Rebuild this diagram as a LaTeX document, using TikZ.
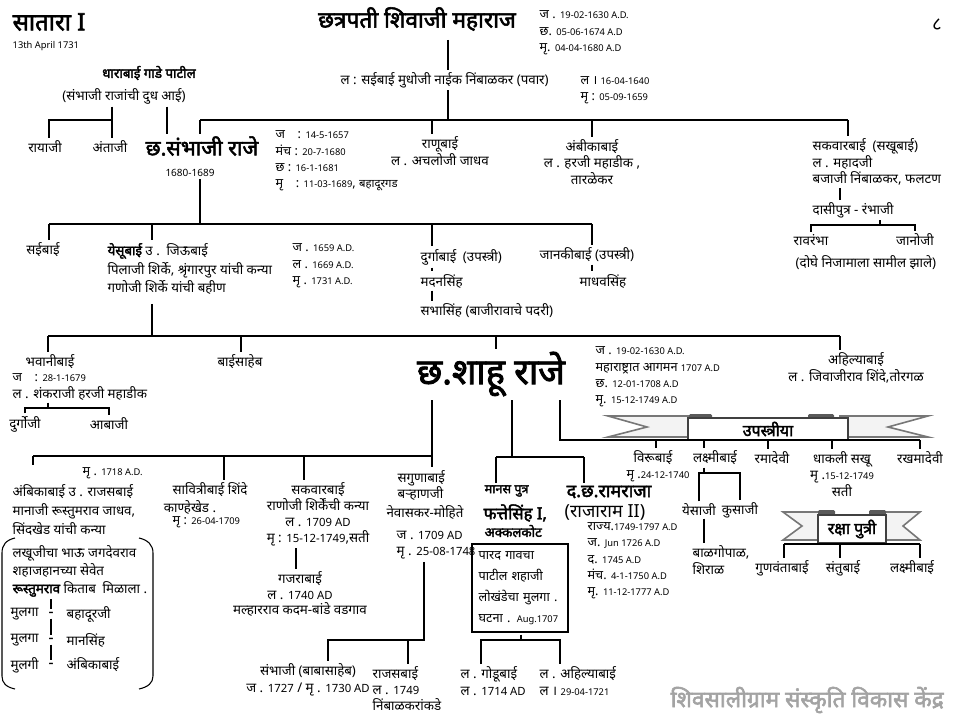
\documentclass[tikz,border=0pt]{standalone}
\usepackage{fontspec}
\setmainfont{Noto Sans}
\newfontfamily\dev[Script=Devanagari]{Noto Sans}
\newfontfamily\devb[Script=Devanagari, FakeBold=2.5]{Noto Sans}
\usetikzlibrary{positioning}
\definecolor{ribbonEdge}{HTML}{777777}
\definecolor{ribbonFill}{HTML}{F3F3F3}
\definecolor{foldGrey}{HTML}{5A5A5A}
\definecolor{creditGrey}{HTML}{A3A3A3}
\newcommand{\sdate}[1]{{\fontsize{7}{8}\selectfont #1}}
\newcommand{\mdate}[1]{{\fontsize{8.5}{9}\selectfont #1}}

\begin{document}
\begin{tikzpicture}[
  x=0.75pt, y=-0.75pt,
  every node/.style={inner sep=0pt, outer sep=2pt, font=\dev\fontsize{10}{12.4}\selectfont},
  txt/.style={anchor=west, align=left},
  ctxt/.style={anchor=center, align=center},
  date/.style={anchor=west, align=left, font=\dev\fontsize{9.5}{12.2}\selectfont},
  title/.style={font=\devb\fontsize{16}{19}\selectfont},
  link/.style={draw=black, line width=0.8pt},
  trunk/.style={draw=black, line width=2.2pt},
  tail/.style={draw=ribbonEdge, fill=ribbonFill, line width=1.2pt, line join=miter},
  fold/.style={fill=foldGrey, rounded corners=1pt},
  banner/.style={draw=black!75, fill=white, line width=0.9pt, font=\devb\fontsize{12}{14}\selectfont}
]
\useasboundingbox (0,0) rectangle (960,720);

% heading
\node[anchor=west, font=\devb\fontsize{18}{20}\selectfont] (satara) at (10,22) {सातारा I};
\node[anchor=west, font=\dev\fontsize{7}{8}\selectfont] (dated) at (10,46) {13th April 1731};
\node[font=\dev\fontsize{14}{16}\selectfont] (pagenum) at (937,25) {८};

% Shivaji
\node[title, font=\devb\fontsize{17}{19}\selectfont] (shivaji) at (417,19) {छत्रपती शिवाजी महाराज};
\node[date] (shivaji-d) at (537,33) {ज . \sdate{19-02-1630 A.D.}\\छ. \sdate{05-06-1674 A.D}\\मृ. \sdate{04-04-1680 A.D}};
\node[txt] (saibai) at (338,80) {ल : सईबाई मुधोजी नाईक निंबाळकर (पवार)};
\node[date] (saibai-d) at (578,90) {ल । \sdate{16-04-1640}\\मृ : \sdate{05-09-1659}};

% Sambhaji and his brothers and sisters
\node[ctxt, font=\devb\fontsize{10}{12}\selectfont] (dhara) at (149,73) {धाराबाई गाडे पाटील};
\node[ctxt] (dhara-n) at (124,96) {(संभाजी राजांची दुध आई)};
\node[ctxt] (rayaji) at (45,147) {रायाजी};
\node[ctxt] (antaji) at (110,147) {अंताजी};
\node[title] (sambhaji) at (202,146) {छ.संभाजी राजे};
\node[font=\dev\fontsize{7.5}{9}\selectfont] (sambhaji-r) at (190,173) {1680-1689};
\node[date] (sambhaji-d) at (273,161) {ज\quad : \sdate{14-5-1657}\\मंच : \sdate{20-7-1680}\\छ : \sdate{16-1-1681}\\मृ\quad : \sdate{11-03-1689}, \mdate{बहादूरगड}};
\node[ctxt] (ranubai) at (440,151) {राणूबाई\\ल . अचलोजी जाधव};
\node[ctxt] (ambika) at (592,162) {अंबीकाबाई\\ल . हरजी महाडीक ,\\तारळेकर};
\node[txt] (sakvar) at (810,162) {सकवारबाई\enspace (सखूबाई)\\ल . महादजी\\बजाजी निंबाळकर, फलटण};
\node[txt] (rambhaji) at (810,210) {दासीपुत्र - रंभाजी};
\node[ctxt] (ravrambha) at (811,240) {रावरंभा};
\node[ctxt] (janoji) at (915,240) {जानोजी};
\node[txt] (doghe) at (793,263) {(दोघे निजामाला सामील झाले)};

\coordinate (sv) at (448,40);
\coordinate (barA-w) at (200,120);
\coordinate (barA-e) at (848,120);
\coordinate (dA2) at (432,120);
\coordinate (dA3) at (592,120);
\draw[link] (sv) -- (sv |- saibai.north);
\draw[link] (sv |- saibai.south) -- (sv |- barA-w);
\draw[link] (barA-w) -- (barA-e);
\draw[link] (barA-w) -- (barA-w |- sambhaji.north);
\draw[link] (dA2) -- (dA2 |- ranubai.north);
\draw[link] (dA3) -- (dA3 |- ambika.north);
\draw[link] (barA-e) -- (barA-e |- sakvar.north);
\coordinate (dh-a) at (112,120);
\coordinate (dh-r) at (49,120);
\coordinate (dh-s) at (167,105);
\draw[link] (dhara-n.south -| dh-a) -- (dh-a |- antaji.north);
\draw[link] (dh-a) -- (dh-r) -- (dh-r |- rayaji.north);
\draw[trunk] (dhara-n.south -| dh-s) -- (dh-s |- sambhaji.north);
\coordinate (sk) at (840,187);
\coordinate (rbar) at (880,225);
\draw[link] (sakvar.south -| sk) -- (sk |- rambhaji.north);
\draw[link] (rambhaji.south -| rbar) -- (rbar);
\draw[link] (ravrambha.north) |- (rbar) -| (janoji.north);

% Sambhaji's wives
\node[ctxt] (saibai2) at (43,250) {सईबाई};
\node[txt, font=\dev\fontsize{10}{14.2}\selectfont] (yesubai) at (105,269) {{\devb येसूबाई} उ .\enspace जिऊबाई\\पिलाजी शिर्के, श्रृंगारपुर यांची कन्या\\गणोजी शिर्के यांची बहीण};
\node[date] (yesubai-d) at (290,266) {ज . \sdate{1659 A.D.}\\ल . \sdate{1669 A.D.}\\मृ . \sdate{1731 A.D.}};
\node[txt] (durgabai) at (418,257) {दुर्गाबाई\enspace (उपस्त्री)};
\node[txt] (madan) at (418,281) {मदनसिंह};
\node[txt] (sabha) at (418,311) {सभासिंह (बाजीरावाचे पदरी)};
\node[txt] (janaki) at (537,255) {जानकीबाई (उपस्त्री)};
\node[ctxt] (madhav) at (603,281) {माधवसिंह};

\coordinate (barB) at (200,224);
\coordinate (dB1) at (49,224);
\coordinate (dB2) at (152,224);
\coordinate (dB3) at (432,224);
\coordinate (dB4) at (592,224);
\draw[link] (sambhaji-r.south -| barB) -- (barB);
\draw[link] (dB1) -- (dB4);
\draw[link] (dB1) -- (dB1 |- saibai2.north);
\draw[link] (dB2) -- (dB2 |- yesubai.north);
\draw[link] (dB3) -- (dB3 |- durgabai.north);
\draw[link] (durgabai.south -| dB3) -- (dB3 |- madan.north);
\draw[link] (madan.south -| dB3) -- (dB3 |- sabha.north);
\draw[link] (dB4) -- (dB4 |- janaki.north);
\draw[link] (janaki.south -| dB4) -- (dB4 |- madhav.north);

% Shahu and his sisters
\node[ctxt] (bhavani) at (50,362) {भवानीबाई};
\node[date] (bhavani-j) at (10,378) {ज\quad : \sdate{28-1-1679}};
\node[txt] (bhavani-l) at (10,393) {ल . शंकराजी हरजी महाडीक};
\node[ctxt] (durgoji) at (25,424) {दुर्गोजी};
\node[ctxt] (abaji) at (109,424) {आबाजी};
\node[ctxt] (baisaheb) at (240,362) {बाईसाहेब};
\node[font=\devb\fontsize{27}{30}\selectfont] (shahu) at (491,374) {छ.शाहू राजे};
\node[date] (shahu-d) at (593,377) {ज . \sdate{19-02-1630 A.D.}\\महाराष्ट्रात आगमन \sdate{1707 A.D}\\छ. \sdate{12-01-1708 A.D}\\मृ. \sdate{15-12-1749 A.D}};
\node[ctxt] (ahilya) at (856,368) {अहिल्याबाई\\ल . जिवाजीराव शिंदे,तोरगळ};

\coordinate (tc) at (152,304);
\coordinate (barC-w) at (48,336);
\coordinate (barC-e) at (840,336);
\coordinate (dC2) at (241,336);
\coordinate (dC3) at (496,336);
\draw[trunk] (tc) -- (tc |- barC-w);
\draw[link] (barC-w) -- (barC-e);
\draw[link] (barC-w) -- (barC-w |- bhavani.north);
\draw[link] (dC2) -- (dC2 |- baisaheb.north);
\draw[trunk] (dC3) -- (dC3 |- shahu.north);
\draw[link] (barC-e) -- (barC-e |- ahilya.north);
\coordinate (bv) at (48,408);
\draw[link] (bhavani-l.south -| bv) -- (bv);
\draw[link] (durgoji.north) |- (bv) -| (abaji.north);

% Shahu's wives
\node[date] (ambika2-m) at (80,473) {मृ . \sdate{1718 A.D.}};
\node[txt, font=\dev\fontsize{10}{14}\selectfont] (ambika2) at (10,510) {अंबिकाबाई उ . राजसबाई\\मानाजी रूस्तुमराव जाधव,\\सिंदखेड यांची कन्या};
\node[txt, font=\dev\fontsize{10}{13.5}\selectfont] (lakhuji) at (10,571) {लखूजीचा भाऊ जगदेवराव\\शहाजहानच्या सेवेत\\{\devb रूस्तुमराव} किताब\enspace मिळाला .};
\node[txt] (son1) at (8,614) {मुलगा};
\node[txt] (son2) at (8,640) {मुलगा};
\node[txt] (son3) at (8,665) {मुलगी};
\node[font=\devb\fontsize{10}{12}\selectfont] (dash1) at (51,614) {-};
\node[font=\devb\fontsize{10}{12}\selectfont] (dash2) at (51,640) {-};
\node[font=\devb\fontsize{10}{12}\selectfont] (dash3) at (51,665) {-};
\node[txt] (bahadur) at (64,614) {बहादूरजी};
\node[txt] (mansingh) at (64,640) {मानसिंह};
\node[txt] (ambika3) at (64,665) {अंबिकाबाई};
\draw[link] (lakhuji.south -| dash1) -- (dash1.north);
\draw[link] (dash1.south) -- (dash2.north);
\draw[link] (dash2.south) -- (dash3.north);
\draw[link] (15,538) .. controls (6,540) and (2,545) .. (2,553) -- (2,676) .. controls (2,683) and (6,687) .. (15,689);
\draw[link] (139,538) .. controls (148,540) and (153,545) .. (153,553) -- (153,676) .. controls (153,683) and (148,687) .. (139,689);

\node[txt] (savitri) at (170,490) {सावित्रीबाई शिंदे};
\node[ctxt] (kanhe) at (190,507) {काण्हेखेड .};
\node[date] (savitri-m) at (170,522) {मृ : \sdate{26-04-1709}};
\node[ctxt, font=\dev\fontsize{10}{12}\selectfont] (sakvar2) at (318,514) {सकवारबाई\\राणोजी शिर्केंची कन्या\\ल . \mdate{1709 AD}\\मृ : \mdate{15-12-1749},सती};
\node[ctxt, font=\dev\fontsize{10}{11.8}\selectfont] (gajra) at (300,594) {गजराबाई\\ल . \mdate{1740 AD}\\मल्हारराव कदम-बांडे वडगाव};
\node[txt, font=\dev\fontsize{10}{12}\selectfont] (saguna) at (395,485) {सगुणाबाई\\बऱ्हाणजी};
\node[ctxt] (nevas) at (425,512) {नेवासकर-मोहिते};
\node[txt] (saguna-d) at (394,545) {ज . \mdate{1709 AD}\\मृ . \mdate{25-08-1748}};
\node[ctxt] (sambhaji2) at (308,680) {संभाजी (बाबासाहेब)\\ज . \mdate{1727} / मृ . \mdate{1730 AD}};
\node[txt, font=\dev\fontsize{10}{12}\selectfont] (rajas) at (370,689) {राजसबाई\\ल . \mdate{1749}\\निंबाळकरांकडे};

\coordinate (sh1) at (432,400);
\coordinate (barD-w) at (33,456);
\coordinate (dD2) at (224,456);
\coordinate (dD3) at (304,456);
\coordinate (dD4) at (432,456);
\draw[link] (sh1) -- (sh1 |- saguna.north);
\draw[link] (barD-w) -- (dD4);
\draw[link] (barD-w) -- (barD-w |- ambika2-m.north);
\draw[link] (dD2) -- (dD2 |- savitri.north);
\draw[link] (dD3) -- (dD3 |- sakvar2.north);
\coordinate (sg) at (296,560);
\draw[link] (sakvar2.south -| sg) -- (sg |- gajra.north);
\coordinate (sgbar) at (424,640);
\coordinate (sgL) at (328,640);
\coordinate (sgM) at (408,640);
\draw[link] (saguna-d.south -| sgbar) -- (sgbar) -- (sgL) -- (sgL |- sambhaji2.north);
\draw[link] (sgM) -- (sgM |- rajas.north);

% adopted sons
\node[txt, font=\devb\fontsize{9.5}{11}\selectfont] (manas) at (482,491) {मानस पुत्र};
\node[txt, font=\devb\fontsize{12.5}{14}\selectfont] (fateh) at (481,513) {फत्तेसिंह I,};
\node[txt, font=\devb\fontsize{10}{12}\selectfont] (akkal) at (482,531) {अक्कलकोट};
\node[draw, line width=0.8pt, minimum width=72pt, minimum height=66pt, text width=62pt, align=left, font=\dev\fontsize{9.5}{15.7}\selectfont] (fatehbox) at (520,588) {पारद गावचा\\पाटील शहाजी\\लोखंडेचा मुलगा .\\घटना . \sdate{Aug.1707}};
\node[txt, font=\dev\fontsize{10}{12.4}\selectfont] (godu) at (458,681) {ल . गोडूबाई\\ल . \mdate{1714 AD}};
\node[txt, font=\dev\fontsize{10}{12.4}\selectfont] (ahilya2) at (537,681) {ल . अहिल्याबाई\\ल । \sdate{29-04-1721}};
\node[txt, font=\devb\fontsize{13.5}{15}\selectfont] (ramraja) at (564,492) {द.छ.रामराजा};
\node[txt, font=\dev\fontsize{13.5}{15}\selectfont] (rajaram) at (562,512) {(राजाराम II)};
\node[date] (ramraja-d) at (585,561) {राज्य.\sdate{1749-1797 A.D}\\ज. \sdate{Jun 1726 A.D}\\द. \sdate{1745 A.D}\\मंच. \sdate{4-1-1750 A.D}\\मृ. \sdate{11-12-1777 A.D}};

\coordinate (sh2) at (512,400);
\coordinate (barE-w) at (496,457);
\coordinate (barE-e) at (584,457);
\draw[link] (sh2) -- (sh2 |- barE-w);
\draw[link] (barE-w) -- (barE-e);
\draw[link] (barE-w) -- (barE-w |- manas.north);
\draw[link] (barE-e) -- (barE-e |- ramraja.north);
\coordinate (fb) at (521,640);
\coordinate (fbL) at (481,640);
\coordinate (fbR) at (560,640);
\draw[link] (fatehbox.south -| fb) -- (fb);
\draw[link] (fbL |- godu.north) -- (fbL) -- (fbR) -- (fbR |- ahilya2.north);

% upastri ribbon
\draw[tail] (608,416) -- (700,416) -- (700,437) -- (608,437) -- (647,427) -- cycle;
\draw[tail] (840,416) -- (928,416) -- (888,427) -- (928,437) -- (840,437) -- cycle;
\fill[fold] (689,414) rectangle (712,419);
\fill[fold] (808,414) rectangle (834,419);
\node[banner, minimum width=120pt, minimum height=16.5pt] (upastri) at (768,429) {उपस्त्रीया};
\node[ctxt] (viru) at (653,458) {विरूबाई};
\node[date, anchor=center] (viru-m) at (658,476) {मृ .\sdate{24-12-1740}};
\node[ctxt] (laxmi1) at (715,458) {लक्ष्मीबाई};
\node[ctxt] (rama) at (772,458) {रमादेवी};
\node[ctxt] (dhakali) at (842,474) {धाकली सखू\\मृ .\sdate{15-12-1749}\\सती};
\node[ctxt] (rakhma) at (920,458) {रखमादेवी};
\node[ctxt] (yesaji) at (699,510) {येसाजी};
\node[ctxt] (kusaji) at (740,510) {कुसाजी};
\node[txt] (balgopal) at (690,560) {बाळगोपाळ,\\शिराळ};

\coordinate (sh3) at (560,400);
\coordinate (barF-w) at (560,440);
\coordinate (barF-e) at (920,440);
\coordinate (dF1) at (656,440);
\coordinate (dF2) at (704,440);
\coordinate (dF3) at (768,440);
\coordinate (dF4) at (832,440);
\draw[link] (sh3) -- (barF-w) -- (barF-e);
\draw[link] (dF1) -- (dF1 |- viru.north);
\draw[link] (dF2) -- (dF2 |- laxmi1.north);
\draw[link] (dF3) -- (dF3 |- rama.north);
\draw[link] (dF4) -- (dF4 |- dhakali.north);
\draw[link] (barF-e) -- (barF-e |- rakhma.north);
\coordinate (lxbar) at (704,473);
\draw[link] (laxmi1.south -| lxbar) -- (lxbar);
\draw[link] (yesaji.north) |- (lxbar) -| (kusaji.north);
\draw[link] (yesaji.south -| lxbar) -- (lxbar |- balgopal.north);

% raksha putri ribbon
\draw[tail] (783,512) -- (830,512) -- (830,540) -- (783,540) -- (802,526) -- cycle;
\draw[tail] (875,512) -- (920,512) -- (903,526) -- (920,540) -- (875,540) -- cycle;
\fill[fold] (818,510) rectangle (835,515);
\fill[fold] (869,510) rectangle (886,515);
\node[banner, minimum width=51pt, minimum height=21pt] (raksha) at (852,529) {रक्षा पुत्री};
\node[ctxt] (gunvanta) at (782,568) {गुणवंताबाई};
\node[ctxt] (santu) at (843,568) {संतुबाई};
\node[ctxt] (laxmi2) at (912,568) {लक्ष्मीबाई};
\coordinate (barG-w) at (784,544);
\coordinate (barG-m) at (840,544);
\coordinate (barG-e) at (920,544);
\draw[link] (barG-w) -- (barG-e);
\draw[link] (barG-w) -- (barG-w |- gunvanta.north);
\draw[link] (barG-m) -- (barG-m |- santu.north);
\draw[link] (barG-e) -- (barG-e |- laxmi2.north);

% credit line
\node[anchor=west, text=creditGrey, font=\devb\fontsize{17}{20}\selectfont] (credit) at (668,700) {शिवसालीग्राम संस्कृति विकास केंद्र};
\end{tikzpicture}
\end{document}
